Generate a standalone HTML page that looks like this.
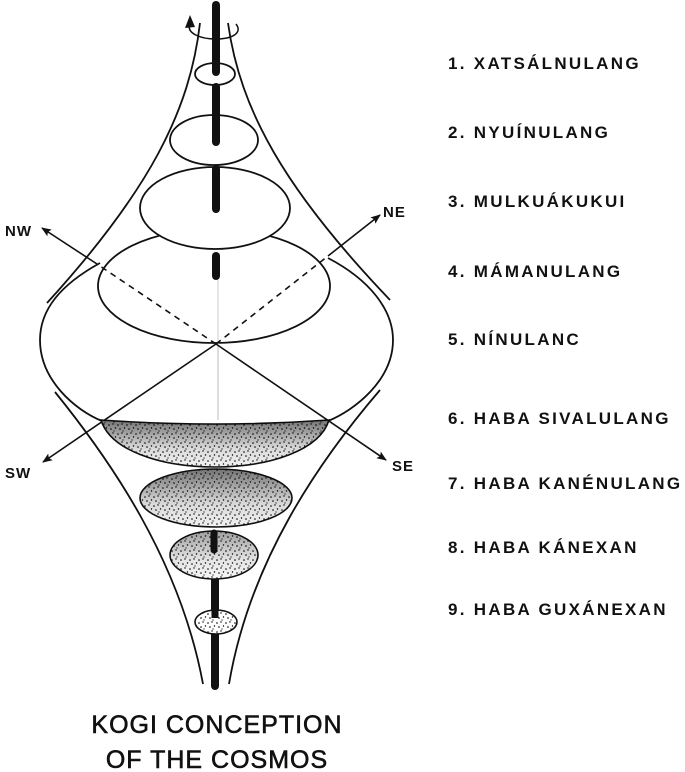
<!DOCTYPE html>
<html><head><meta charset="utf-8"><style>
html,body{margin:0;padding:0;background:#fff;}
svg{display:block;}
.l{font-family:"Liberation Sans",sans-serif;font-weight:bold;font-size:17px;letter-spacing:2.3px;fill:#111;}
.d{font-family:"Liberation Sans",sans-serif;font-weight:bold;font-size:15px;letter-spacing:1px;fill:#111;}
.t{font-family:"Liberation Sans",sans-serif;font-size:25px;letter-spacing:1px;fill:#111;stroke:#111;stroke-width:0.6;}
</style></head><body>
<svg width="685" height="772" viewBox="0 0 685 772" xmlns="http://www.w3.org/2000/svg">
<defs>
<pattern id="dots" width="9" height="9" patternUnits="userSpaceOnUse">
<rect width="9" height="9" fill="#fff"/>
<circle cx="1" cy="2" r="0.8" fill="#000"/><circle cx="5" cy="1" r="0.7" fill="#000"/>
<circle cx="3" cy="6" r="0.8" fill="#000"/><circle cx="7.5" cy="5" r="0.7" fill="#000"/>
<circle cx="6" cy="8" r="0.6" fill="#000"/>
</pattern>
<linearGradient id="shade" x1="0" y1="0" x2="0" y2="1">
<stop offset="0" stop-color="#000" stop-opacity="0.55"/>
<stop offset="0.6" stop-color="#000" stop-opacity="0.15"/>
<stop offset="1" stop-color="#000" stop-opacity="0.05"/>
</linearGradient>
<marker id="ar" markerWidth="10" markerHeight="8" refX="9" refY="4" orient="auto" markerUnits="userSpaceOnUse">
<path d="M0,0 L10,4 L0,8 L2,4 Z" fill="#111"/></marker>
</defs>
<g fill="none" stroke="#111" stroke-width="1.8">
<path d="M200,23 C190,110 150,190 47,303"/>
<path d="M228,23 C240,110 285,190 390,300"/>
<path d="M55,392 C110,460 180,560 203,684"/>
<path d="M380,390 C320,460 250,560 229,684"/>
<path d="M100,263 C60,285 40,310 40,340 C40,380 75,410 102,421"/>
<path d="M328,258 C370,280 393,310 393,340 C393,380 355,410 328,421"/>
</g>
<line x1="218" y1="255" x2="218" y2="420" stroke="#bbb" stroke-width="1"/>
<ellipse cx="214" cy="286" rx="116" ry="57" fill="#fff" stroke="#111" stroke-width="1.8"/>
<line x1="218" y1="280" x2="218" y2="345" stroke="#ccc" stroke-width="1"/>
<g stroke="#111" stroke-width="1.6">
<line x1="216" y1="344" x2="97" y2="264" stroke-dasharray="6,5"/>
<line x1="97" y1="264" x2="42" y2="228" marker-end="url(#ar)"/>
<line x1="216" y1="344" x2="328" y2="256" stroke-dasharray="6,5"/>
<line x1="328" y1="256" x2="380" y2="215" marker-end="url(#ar)"/>
<line x1="216" y1="344" x2="43" y2="462" marker-end="url(#ar)"/>
<line x1="216" y1="344" x2="386" y2="460" marker-end="url(#ar)"/>
</g>
<ellipse cx="215" cy="208" rx="75" ry="41" fill="#fff" stroke="#111" stroke-width="1.8"/>
<ellipse cx="214" cy="140" rx="44" ry="25" fill="#fff" stroke="#111" stroke-width="1.8"/>
<ellipse cx="215" cy="74" rx="20" ry="11" fill="#fff" stroke="#111" stroke-width="1.8"/>
<g stroke="#111" stroke-width="8" stroke-linecap="round">
<line x1="216" y1="5" x2="216" y2="72"/>
<line x1="216" y1="87" x2="216" y2="142"/>
<line x1="216" y1="169" x2="216" y2="209"/>
<line x1="216" y1="256" x2="216" y2="276"/>
<line x1="215" y1="580" x2="215" y2="686"/>
</g>
<path d="M190,24 C186,33 200,39 216,39 C232,39 243,33 236,24" fill="none" stroke="#111" stroke-width="1.5"/>
<path d="M185,28 L190,15 L195,27 Z" fill="#111"/>
<path d="M101,420 Q215,428 329,420 C320,450 270,467 215,467 C160,467 110,450 101,420 Z" fill="url(#dots)" stroke="#111" stroke-width="1.6"/>
<path d="M101,420 Q215,428 329,420 C320,450 270,467 215,467 C160,467 110,450 101,420 Z" fill="url(#shade)"/>
<ellipse cx="216" cy="498" rx="76" ry="29" fill="url(#dots)" stroke="#111" stroke-width="1.6"/>
<ellipse cx="216" cy="498" rx="76" ry="29" fill="url(#shade)"/>
<ellipse cx="214" cy="555" rx="44" ry="24" fill="url(#dots)" stroke="#111" stroke-width="1.6"/>
<ellipse cx="214" cy="555" rx="44" ry="24" fill="url(#shade)" opacity="0.7"/>
<line x1="214" y1="533" x2="214" y2="550" stroke="#111" stroke-width="7" stroke-linecap="round"/>
<ellipse cx="216" cy="622" rx="21" ry="12" fill="url(#dots)" stroke="#111" stroke-width="1.6"/>
<line x1="215" y1="610" x2="215" y2="618" stroke="#111" stroke-width="7"/>
<text class="d" x="5" y="236">NW</text>
<text class="d" x="383" y="217">NE</text>
<text class="d" x="5" y="478">SW</text>
<text class="d" x="392" y="471">SE</text>
<text class="l" x="448" y="69">1. XATSÁLNULANG</text>
<text class="l" x="448" y="138">2. NYUÍNULANG</text>
<text class="l" x="448" y="207">3. MULKUÁKUKUI</text>
<text class="l" x="448" y="277">4. MÁMANULANG</text>
<text class="l" x="448" y="345">5. NÍNULANC</text>
<text class="l" x="448" y="424">6. HABA SIVALULANG</text>
<text class="l" x="448" y="489">7. HABA KANÉNULANG</text>
<text class="l" x="448" y="553">8. HABA KÁNEXAN</text>
<text class="l" x="448" y="615">9. HABA GUXÁNEXAN</text>
<text class="t" x="217" y="733" text-anchor="middle">KOGI CONCEPTION</text>
<text class="t" x="217" y="768" text-anchor="middle">OF THE COSMOS</text>
</svg>
</body></html>
